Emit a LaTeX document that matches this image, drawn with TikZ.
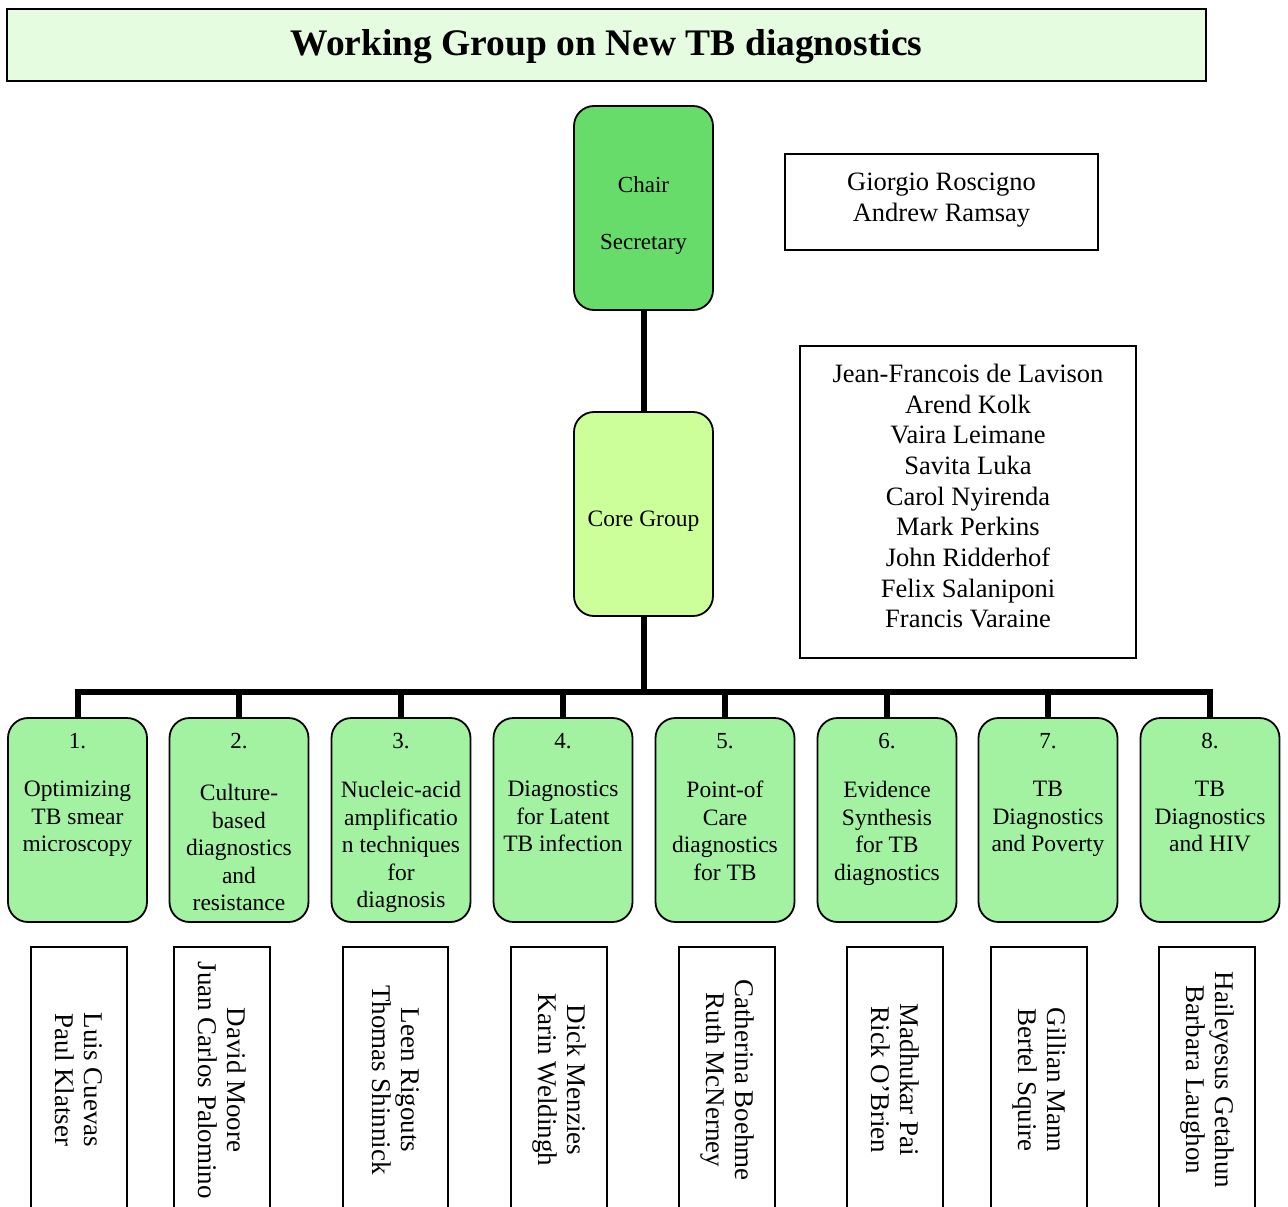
\documentclass[tikz,border=0pt]{standalone}
\usepackage{fontspec}
\setmainfont{Liberation Serif}
\definecolor{titlefill}{HTML}{E6FCE1}
\definecolor{chairfill}{HTML}{68DC6A}
\definecolor{corefill}{HTML}{CCFF99}
\definecolor{groupfill}{HTML}{A2F2A2}
\begin{document}
\begin{tikzpicture}[x=1pt,y=-1pt,
  conn/.style={line width=6pt},
  rbox/.style={draw=black, line width=1.8pt, rounded corners=20pt, minimum width=139pt, minimum height=204pt, inner sep=0pt},
  grp/.style={rbox, fill=groupfill},
  numtxt/.style={font=\fontsize{23}{27}\selectfont, inner sep=0pt},
  grptxt/.style={font=\fontsize{23.5}{27.6}\selectfont, align=center, inner sep=0pt},
  plainbox/.style={draw=black, line width=1.6pt, inner sep=0pt, align=center, font=\fontsize{26.5}{30.7}\selectfont},
  namebox/.style={draw=black, line width=1.8pt, rotate=-90, minimum width=266pt, minimum height=96pt, align=center, font=\fontsize{27}{29}\selectfont, inner sep=0pt}]
\useasboundingbox (0,0) rectangle (1288,1207);
\clip (0,0) rectangle (1288,1207);

% title
\node[draw=black, line width=2pt, fill=titlefill, minimum width=1199pt, minimum height=72pt, inner sep=0pt,
      font=\fontsize{37.5}{40}\selectfont\bfseries] (title) at (606.5,45) {\rule{0pt}{30pt}Working Group on New TB diagnostics};

% chair
\node[rbox, fill=chairfill, font=\fontsize{23}{27}\selectfont, align=center] (chair) at (643.5,208)
  {\rule{0pt}{30pt}Chair\\[30pt]Secretary};
\node[plainbox, minimum width=313pt, minimum height=96pt] (chairnames) at (941.5,202)
  {Giorgio Roscigno\\Andrew Ramsay\rule[-9pt]{0pt}{9pt}};

% core group
\node[rbox, fill=corefill, font=\fontsize{23.5}{27}\selectfont] (core) at (643.5,514) {\rule{0pt}{29pt}Core Group};
\node[plainbox, minimum width=336pt, minimum height=312pt] (corenames) at (968,502)
  {Jean-Francois de Lavison\\Arend Kolk\\Vaira Leimane\\Savita Luka\\Carol Nyirenda\\Mark Perkins\\John Ridderhof\\Felix Salaniponi\\Francis Varaine\rule[-12pt]{0pt}{12pt}};

% groups
\node[grp] (g1) at (77.5,820) {};
\node[grp] (g2) at (239,820) {};
\node[grp] (g3) at (401,820) {};
\node[grp] (g4) at (563,820) {};
\node[grp] (g5) at (725,820) {};
\node[grp] (g6) at (887,820) {};
\node[grp] (g7) at (1048,820) {};
\node[grp] (g8) at (1210,820) {};

\node[numtxt, anchor=base] (n1) at (77.5,748) {1.};
\node[numtxt, anchor=base] (n2) at (239,748) {2.};
\node[numtxt, anchor=base] (n3) at (401,748) {3.};
\node[numtxt, anchor=base] (n4) at (563,748) {4.};
\node[numtxt, anchor=base] (n5) at (725,748) {5.};
\node[numtxt, anchor=base] (n6) at (887,748) {6.};
\node[numtxt, anchor=base] (n7) at (1048,748) {7.};
\node[numtxt, anchor=base] (n8) at (1210,748) {8.};

\node[grptxt, anchor=north] (t1) at (77.5,781) {Optimizing\\TB smear\\microscopy};
\node[grptxt, anchor=north] (t2) at (239,784) {Culture-\\based\\diagnostics\\and\\resistance};
\node[grptxt, anchor=north] (t3) at (401,781) {Nucleic-acid\\amplificatio\\n techniques\\for\\diagnosis};
\node[grptxt, anchor=north] (t4) at (563,781) {Diagnostics\\for Latent\\TB infection};
\node[grptxt, anchor=north] (t5) at (725,781) {Point-of\\Care\\diagnostics\\for TB};
\node[grptxt, anchor=north] (t6) at (887,781) {Evidence\\Synthesis\\for TB\\diagnostics};
\node[grptxt, anchor=north] (t7) at (1048,781) {TB\\Diagnostics\\and Poverty};
\node[grptxt, anchor=north] (t8) at (1210,781) {TB\\Diagnostics\\and HIV};

% member boxes
\node[namebox] (m1) at (79,1080) {Luis Cuevas\\Paul Klatser};
\node[namebox] (m2) at (222,1080) {David Moore\\Juan Carlos Palomino};
\node[namebox, minimum height=105pt] (m3) at (395.5,1080) {Leen Rigouts\\Thomas Shinnick};
\node[namebox] (m4) at (559,1080) {Dick Menzies\\Karin Weldingh};
\node[namebox] (m5) at (727,1080) {Catherina Boehme\\Ruth McNerney};
\node[namebox] (m6) at (895,1080) {Madhukar Pai\\Rick O'Brien};
\node[namebox] (m7) at (1039,1080) {Gillian Mann\\Bertel Squire};
\node[namebox] (m8) at (1207,1080) {Haileyesus Getahun\\Barbara Laughon};

% connectors
\coordinate (busmid) at (643.5,692);
\draw[conn] (chair) -- (core);
\draw[conn] (core) -- (busmid);
\draw[conn] (g1.north) |- (busmid) -| (g8.north);
\foreach \i in {2,...,7} {\draw[conn] (g\i.north) -- (g\i.north |- busmid);}
\end{tikzpicture}
\end{document}
